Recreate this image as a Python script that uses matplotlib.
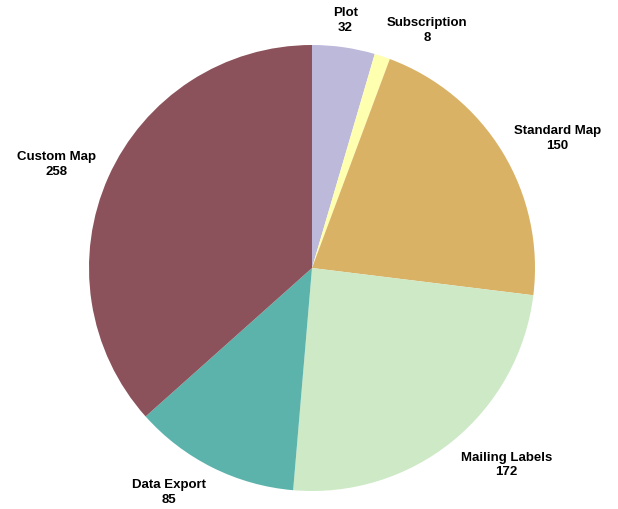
import matplotlib.pyplot as plt
import numpy as np

categories = ["Plot", "Subscription", "Standard Map", "Mailing Labels", "Data Export", "Custom Map"]
counts = [32, 8, 150, 172, 85, 258]
colors = ["#BDB9DA", "#FFFFB0", "#D9B266", "#CDE9C6", "#5CB3AB", "#8C525B"]

plt.rcParams['font.family'] = ['Liberation Sans', 'DejaVu Sans']

fig = plt.figure(figsize=(6.18, 5.09), dpi=100)
# pie centre at (312, 268) px, radius 223 px
ax = fig.add_axes([(312 - 223) / 618, (509 - 268 - 223) / 509, 446 / 618, 446 / 509])

wedges, _ = ax.pie(counts, colors=colors, startangle=90, counterclock=False,
                   wedgeprops={"linewidth": 0})
ax.set_xlim(-1, 1)
ax.set_ylim(-1, 1)

# labels just outside each wedge, aligned away from the pie
for w, name, val in zip(wedges, categories, counts):
    ang = np.deg2rad((w.theta1 + w.theta2) / 2)
    x, y = np.cos(ang), np.sin(ang)
    ha = "center" if abs(x) < 0.2 else ("left" if x > 0 else "right")
    va = "bottom" if y > 0.7 else ("top" if y < -0.7 else "center")
    r = 1.06
    dy = 0.03 if va == "center" else 0.0
    ax.text(r * x, r * y + dy, f"{name}\n{val}", ha=ha, va=va, fontsize=9.5,
            fontweight="bold", linespacing=1.3, multialignment="center")

fig.savefig("out.png", dpi=100)
